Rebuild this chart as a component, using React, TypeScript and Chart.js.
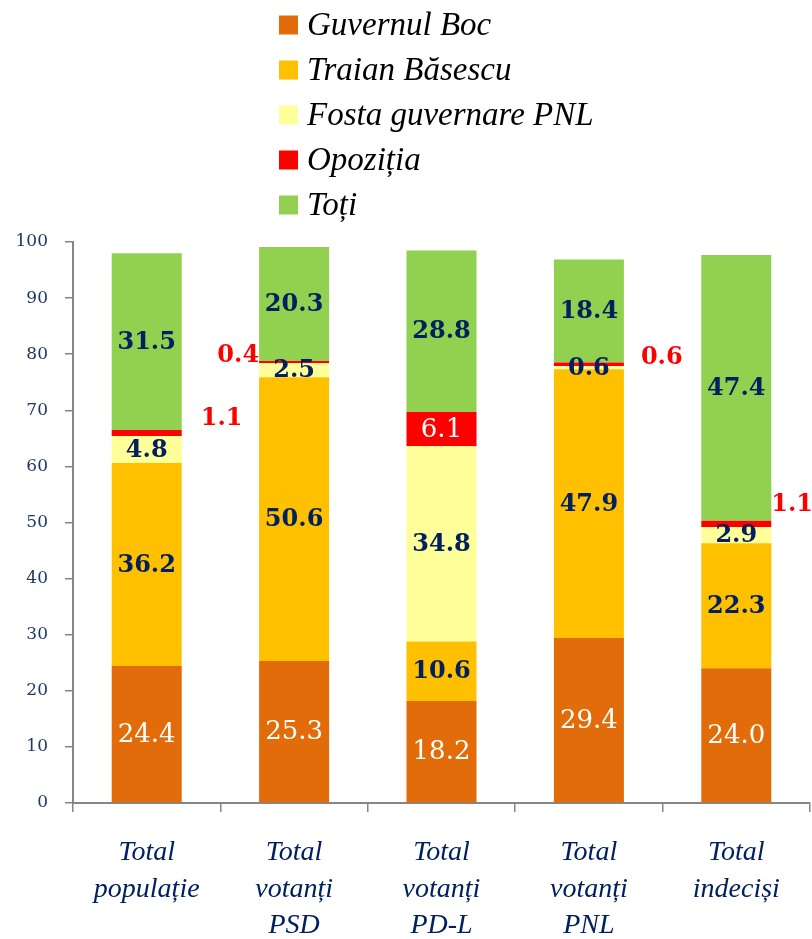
import React, { useEffect, useRef } from "react";
import { Chart, registerables } from "chart.js";

Chart.register(...registerables);

const categories: string[][] = [
  ["Total", "populație"],
  ["Total", "votanți", "PSD"],
  ["Total", "votanți", "PD-L"],
  ["Total", "votanți", "PNL"],
  ["Total", "indeciși"],
];
const seriesNames = ["Guvernul Boc", "Traian Băsescu", "Fosta guvernare PNL", "Opoziția", "Toți"];
const guvernulBoc = [24.4, 25.3, 18.2, 29.4, 24.0];
const traianBasescu = [36.2, 50.6, 10.6, 47.9, 22.3];
const fostaGuvernare = [4.8, 2.5, 34.8, 0.6, 2.9];
const opozitia = [1.1, 0.4, 6.1, 0.6, 1.1];
const toti = [31.5, 20.3, 28.8, 18.4, 47.4];
const yMin = 0;
const yMax = 100;
const yStep = 10;

const seriesColors = ["#E36C0A", "#FFC000", "#FFFF99", "#FF0000", "#92D050"];
const NAVY = "#002060";
const AXIS_NAVY = "#1F3864";
const AXIS_GRAY = "#868686";

// label styling for the small "Opoziția" values drawn outside the bar
const outsideLabels: Array<null | { side: "left" | "right"; dx: number; dy: number }> = [
  { side: "right", dx: 19, dy: -14 },
  { side: "left", dx: 0, dy: -6 },
  null,
  { side: "right", dx: 17, dy: -7 },
  { side: "right", dx: 0, dy: -19 },
];

const legendPlugin = {
  id: "customLegend",
  afterDraw(chart: any) {
    const ctx = chart.ctx;
    ctx.save();
    ctx.textBaseline = "middle";
    ctx.textAlign = "left";
    ctx.font = 'italic 33px "Liberation Serif", serif';
    chart.data.datasets.forEach((ds: any, i: number) => {
      const y = 25 + i * 45;
      ctx.fillStyle = ds.backgroundColor;
      ctx.fillRect(279, y - 9.5, 19, 19);
      ctx.fillStyle = "#000000";
      ctx.fillText(ds.label, 307, y + 1);
    });
    ctx.restore();
  },
};

const valueLabelPlugin = {
  id: "valueLabels",
  afterDatasetsDraw(chart: any) {
    const ctx = chart.ctx;
    ctx.save();
    ctx.textBaseline = "middle";
    chart.data.datasets.forEach((ds: any, di: number) => {
      const meta = chart.getDatasetMeta(di);
      meta.data.forEach((bar: any, i: number) => {
        const v = ds.data[i];
        const text = v.toFixed(1);
        const cy = (bar.y + bar.base) / 2;
        const half = bar.width / 2;
        if (di === 3) {
          const o = outsideLabels[i];
          if (o) {
            ctx.font = 'bold 24px "DejaVu Serif", serif';
            ctx.fillStyle = "#FF0000";
            if (o.side === "right") {
              ctx.textAlign = "left";
              ctx.fillText(text, bar.x + half + o.dx, cy + o.dy);
            } else {
              ctx.textAlign = "right";
              ctx.fillText(text, bar.x - half - o.dx, cy + o.dy);
            }
          } else {
            ctx.font = '26px "DejaVu Serif", serif';
            ctx.fillStyle = "#FFFFFF";
            ctx.textAlign = "center";
            ctx.fillText(text, bar.x, cy + 1);
          }
          return;
        }
        ctx.textAlign = "center";
        if (di === 0) {
          ctx.font = '26px "DejaVu Serif", serif';
          ctx.fillStyle = "#FFFFFF";
        } else {
          ctx.font = 'bold 24px "DejaVu Serif", serif';
          ctx.fillStyle = NAVY;
        }
        ctx.fillText(text, bar.x, cy + 1);
      });
    });
    ctx.restore();
  },
};

export default function App() {
  const canvasRef = useRef<HTMLCanvasElement | null>(null);

  useEffect(() => {
    if (!canvasRef.current) return;
    const values = [guvernulBoc, traianBasescu, fostaGuvernare, opozitia, toti];
    const chart = new Chart(canvasRef.current, {
      type: "bar",
      data: {
        labels: categories,
        datasets: values.map((d, i) => ({
          label: seriesNames[i],
          data: d,
          backgroundColor: seriesColors[i],
          borderWidth: 0,
          categoryPercentage: 1,
          barPercentage: 0.475,
        })),
      },
      options: {
        animation: false,
        responsive: true,
        maintainAspectRatio: false,
        layout: { padding: { top: 242, left: 0, right: 2, bottom: 0 } },
        plugins: {
          legend: { display: false },
          tooltip: { enabled: false },
        },
        scales: {
          x: {
            stacked: true,
            grid: {
              display: true,
              drawOnChartArea: false,
              offset: true,
              tickLength: 9,
              color: AXIS_GRAY,
              lineWidth: 1.5,
            },
            border: { color: AXIS_GRAY, width: 2 },
            ticks: {
              color: NAVY,
              padding: 23,
              maxRotation: 0,
              autoSkip: false,
              font: { family: '"Liberation Serif", serif', style: "italic", size: 28, lineHeight: 1.29 },
            },
            afterFit: (scale: any) => {
              scale.height = 136;
            },
          },
          y: {
            stacked: true,
            min: yMin,
            max: yMax,
            ticks: {
              stepSize: yStep,
              color: AXIS_NAVY,
              padding: 17,
              font: { family: '"DejaVu Serif", serif', size: 17 },
            },
            grid: {
              display: true,
              drawOnChartArea: false,
              tickLength: 8,
              color: AXIS_GRAY,
              lineWidth: 1.5,
            },
            border: { color: AXIS_GRAY, width: 2 },
            afterFit: (scale: any) => {
              scale.width = 73;
            },
          },
        },
      },
      plugins: [valueLabelPlugin, legendPlugin],
    });
    return () => chart.destroy();
  }, []);

  return (
    <div style={{ position: "absolute", left: 0, top: 0, width: 812, height: 939, background: "#fff" }}>
      <canvas ref={canvasRef} />
    </div>
  );
}
